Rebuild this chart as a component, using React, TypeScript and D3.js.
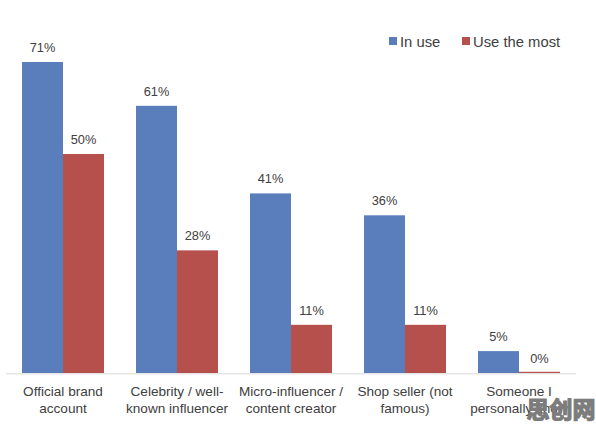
import React from "react";
import * as d3 from "d3";

const categories = [
  ["Official brand", "account"],
  ["Celebrity / well-", "known influencer"],
  ["Micro-influencer /", "content creator"],
  ["Shop seller (not", "famous)"],
  ["Someone I", "personally know"],
];
const inUse = [71, 61, 41, 36, 5];
const useMost = [50, 28, 11, 11, 0];
const seriesNames = ["In use", "Use the most"];
const colors = ["#5A7EBC", "#B5504D"];

const W = 596;
const H = 425;

export default function App() {
  const x = d3.scaleBand<number>().domain(d3.range(categories.length)).range([6, 576]);
  const inner = d3.scaleBand<number>().domain([0, 1]).range([16, x.bandwidth() - 16]);
  const y = d3.scaleLinear().domain([0, 71]).range([373, 62]);
  const series = [inUse, useMost];
  const font = "Liberation Sans, Arial, sans-serif";

  return (
    <svg width={W} height={H} style={{ position: "absolute", left: 0, top: 0 }} fontFamily={font}>
      <rect width={W} height={H} fill="#fff" />
      {series.map((vals, s) =>
        vals.map((v, i) => {
          const bx = (x(i) as number) + (inner(s) as number);
          const bw = inner.bandwidth();
          const top = y(v);
          const h = Math.max(y(0) - top, 1.2);
          return (
            <g key={`${s}-${i}`}>
              <rect x={bx} y={y(0) - h} width={bw} height={h} fill={colors[s]} />
              <text x={bx + bw / 2} y={top - 10} textAnchor="middle" fontSize={12.8} fill="#404040">
                {v}%
              </text>
            </g>
          );
        })
      )}
      <line x1={6} x2={576} y1={373.8} y2={373.8} stroke="#D9D9D9" strokeWidth={1} />
      {categories.map((lines, i) => (
        <text key={i} textAnchor="middle" fontSize={13.6} fill="#404040">
          {lines.map((l, k) => (
            <tspan key={k} x={(x(i) as number) + x.bandwidth() / 2} y={396 + k * 17}>
              {l}
            </tspan>
          ))}
        </text>
      ))}
      {seriesNames.map((n, s) => {
        const lx = s === 0 ? 389 : 462;
        return (
          <g key={n}>
            <rect x={lx} y={37} width={8} height={8} fill={colors[s]} />
            <text x={lx + 11} y={46.5} fontSize={14.8} fill="#404040">
              {n}
            </text>
          </g>
        );
      })}
      <text x={561} y={418} textAnchor="middle" fontSize={23} fontWeight="bold"
        fontFamily="Noto Sans CJK SC" fill="#7C7C7C" stroke="#7C7C7C" strokeWidth={1.2}>
        思创网
      </text>
    </svg>
  );
}
